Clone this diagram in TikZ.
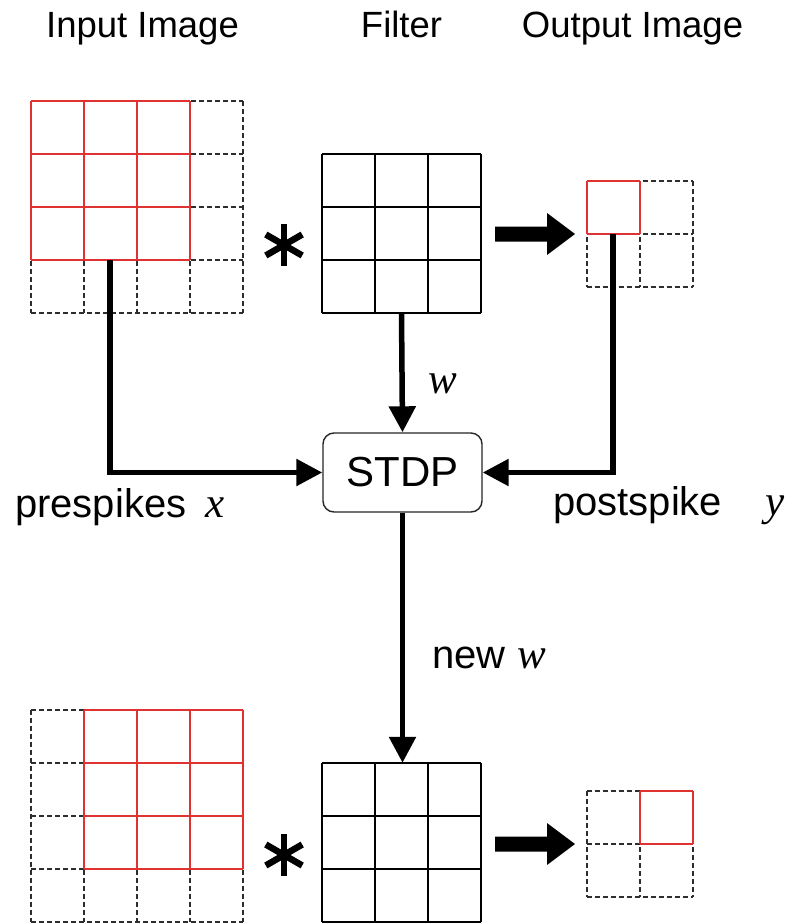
\documentclass[tikz,border=0pt]{standalone}
\usepackage{fontspec}
\setmainfont{Liberation Sans}
\newfontfamily\varfont{Liberation Serif}
\usetikzlibrary{arrows.meta}

\definecolor{winred}{RGB}{225,50,50}
\definecolor{gridgray}{RGB}{45,45,45}

\tikzset{
  dashcell/.style={draw=gridgray, line width=1.5pt, dash pattern=on 5pt off 3pt},
  redcell/.style={draw=winred, line width=1.5pt},
  solidcell/.style={draw=black, line width=1.4pt},
  flow/.style={line width=5.5pt, -{Triangle[length=26pt,width=26pt]}},
  title/.style={font=\fontsize{36.5}{42}\selectfont, inner sep=0pt, anchor=base},
  label/.style={font=\fontsize{40}{46}\selectfont, inner sep=0pt, anchor=base west},
  var/.style={font=\fontsize{43}{48}\selectfont\varfont\itshape, inner sep=0pt, anchor=base west},
  stdpbox/.style={draw=black!85, line width=1.4pt, rounded corners=11pt,
    minimum width=159pt, minimum height=79pt, inner sep=0pt,
    font=\fontsize{42}{48}\selectfont},
  % n x n grid of 53-unit cells, top-left corner at the pic position
  pics/dgrid/.style={code={
    \foreach \k in {0,...,#1} {
      \draw[dashcell] (\k*53,0) -- (\k*53,#1*53);
      \draw[dashcell] (0,\k*53) -- (#1*53,\k*53);
    }}},
  pics/rgrid/.style={code={
    \foreach \k in {0,...,#1} {
      \draw[redcell] (\k*53,0) -- (\k*53,#1*53);
      \draw[redcell] (0,\k*53) -- (#1*53,\k*53);
    }}},
  pics/sgrid/.style={code={
    \foreach \k in {0,...,#1} {
      \draw[solidcell] (\k*53,0) -- (\k*53,#1*53);
      \draw[solidcell] (0,\k*53) -- (#1*53,\k*53);
    }}},
  % convolution sign
  pics/convstar/.style={code={
    \foreach \a in {90,30,150}
      \draw[line width=6.5pt] (\a:21) -- (\a+180:21);
  }},
  % block arrow pointing right
  pics/blockarrow/.style={code={
    \fill (0,-7.5) -- (52,-7.5) -- (52,-21) -- (80,0) -- (52,21) -- (52,7.5) -- (0,7.5) -- cycle;
  }},
}

\begin{document}
\begin{tikzpicture}[x=1pt,y=-1pt]
\useasboundingbox[fill=white] (0,0) rectangle (792,924);

% column titles
\node[title] (tin)  at (142.5,37) {Input Image};
\node[title] (tfil) at (401.5,37) {Filter};
\node[title] (tout) at (632.5,37) {Output Image};

% ---- first step ----
\pic at (31,101) {dgrid=4};
\pic at (31,101) {rgrid=3};
\pic at (284,245) {convstar};
\pic at (322,154) {sgrid=3};
\node (filt1) at (401.5,233.5) [minimum size=159pt, inner sep=0pt] {};
\pic at (495,234) {blockarrow};
\pic at (587,181) {dgrid=2};
\pic at (587,181) {rgrid=1};

\coordinate (pre) at (110,260);
\coordinate (post) at (613,234);

% ---- STDP update ----
\node[stdpbox] (stdp) at (402.5,472.5) {STDP};

\draw[flow] (filt1.south) -- (stdp.north);
\draw[flow] (pre) |- (stdp.west);
\draw[flow] (post) |- (stdp.east);

\node[var] (w1) at (428,393) {w};
\node[label] (prel) at (15,517) {prespikes};
\node[var] (xl) at (205,517) {x};
\node[label] (postl) at (553,515) {postspike};
\node[var] (yl) at (765,515) {y};

% ---- second step ----
\pic at (31,710) {dgrid=4};
\pic at (84,710) {rgrid=3};
\pic at (284,855) {convstar};
\pic at (322,763) {sgrid=3};
\node (filt2) at (401.5,842.5) [minimum size=159pt, inner sep=0pt] {};
\pic at (495,844) {blockarrow};
\pic at (587,791) {dgrid=2};
\pic at (640,791) {rgrid=1};

\draw[flow] (stdp.south) -- (stdp.south |- filt2.north);

\node[label] (newl) at (432,668) {new};
\node[var] (w2) at (517,668) {w};
\end{tikzpicture}
\end{document}
